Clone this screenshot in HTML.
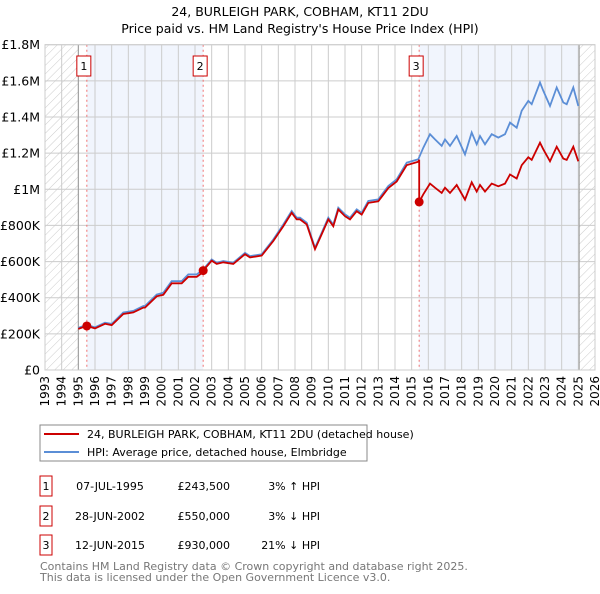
<!DOCTYPE html>
<html><head><meta charset="utf-8"><style>
body{margin:0;background:#fff;font-family:"DejaVu Sans","Liberation Sans",sans-serif;}
svg text{font-family:"DejaVu Sans","Liberation Sans",sans-serif;}
</style></head><body>
<svg id="c" width="600" height="590" viewBox="0 0 600 590" xmlns="http://www.w3.org/2000/svg">
<defs>
<pattern id="hatch" width="6" height="6" patternUnits="userSpaceOnUse" patternTransform="rotate(45)">
<line x1="0" y1="0" x2="0" y2="6" stroke="#ccc" stroke-width="1"/>
</pattern>
</defs>
<text x="300" y="16" text-anchor="middle" font-size="12.5">24, BURLEIGH PARK, COBHAM, KT11 2DU</text>
<text x="300" y="33" text-anchor="middle" font-size="12.5">Price paid vs. HM Land Registry's House Price Index (HPI)</text>
<g id="plot"></g>
<rect x="40" y="425" width="327" height="36" fill="#fff" stroke="#888"/>
<line x1="44" y1="434" x2="79" y2="434" stroke="#cc0000" stroke-width="2"/>
<text x="87" y="438" font-size="11">24, BURLEIGH PARK, COBHAM, KT11 2DU (detached house)</text>
<line x1="44" y1="452" x2="79" y2="452" stroke="#5b8ed6" stroke-width="2"/>
<text x="87" y="456" font-size="11">HPI: Average price, detached house, Elmbridge</text>
<g id="table" font-size="11"></g>
<text x="40" y="570" font-size="11" fill="#777">Contains HM Land Registry data © Crown copyright and database right 2025.</text>
<text x="40" y="581" font-size="11" fill="#777">This data is licensed under the Open Government Licence v3.0.</text>
</svg>
<script>
const hpiYears=[1995.0,1995.5,1996.0,1996.6,1997.0,1997.7,1998.3,1998.9,1999.0,1999.7,2000.1,2000.6,2001.2,2001.6,2002.1,2002.5,2003.0,2003.3,2003.7,2004.3,2005.0,2005.3,2006.0,2006.7,2007.3,2007.8,2008.1,2008.3,2008.7,2009.2,2009.6,2010.0,2010.3,2010.6,2011.0,2011.3,2011.7,2012.0,2012.4,2013.0,2013.6,2014.1,2014.7,2015.4,2015.7,2016.1,2016.4,2016.8,2017.0,2017.3,2017.7,2018.2,2018.6,2018.9,2019.1,2019.4,2019.8,2020.2,2020.6,2020.9,2021.3,2021.6,2022.0,2022.2,2022.7,2022.9,2023.3,2023.7,2024.1,2024.3,2024.7,2025.0];
const hpiValues=[233,250,236,262,255,318,327,354,354,418,427,492,492,529,529,557,612,594,603,594,648,630,640,722,805,880,843,843,815,676,760,843,805,898,861,843,889,870,935,944,1018,1055,1147,1166,1230,1305,1276,1240,1276,1240,1295,1193,1314,1249,1295,1249,1305,1286,1305,1369,1341,1434,1489,1471,1591,1545,1461,1563,1480,1471,1563,1461];
const saleYears=[1995.51,2002.49,2015.45];
const salePrices=[243.5,550,930];
const saleLabels=["1","2","3"];
const saleDates=["07-JUL-1995","28-JUN-2002","12-JUN-2015"];
const salePriceText=["£243,500","£550,000","£930,000"];
const saleHpiText=["3% ↑ HPI","3% ↓ HPI","21% ↓ HPI"];
const yTicks=[0,200,400,600,800,1000,1200,1400,1600,1800];
const yTickLabels=["£0","£200K","£400K","£600K","£800K","£1M","£1.2M","£1.4M","£1.6M","£1.8M"];

const NS="http://www.w3.org/2000/svg";
const X0=45,X1=595,Y0=370,Y1=44.7,YR0=1993,YR1=2026,VMAX=1800;
const xs=y=>X0+(y-YR0)/(YR1-YR0)*(X1-X0);
const ys=v=>Y0-v/VMAX*(Y0-Y1);
const plot=document.getElementById('plot');
function mk(tag,attrs,parent){const e=document.createElementNS(NS,tag);for(const k in attrs)e.setAttribute(k,attrs[k]);(parent||plot).appendChild(e);return e;}
function hpiAt(t){if(t<=hpiYears[0])return hpiValues[0];for(let i=1;i<hpiYears.length;i++){if(t<=hpiYears[i]){const f=(t-hpiYears[i-1])/(hpiYears[i]-hpiYears[i-1]);return hpiValues[i-1]+f*(hpiValues[i]-hpiValues[i-1]);}}return hpiValues[hpiValues.length-1];}

let e;
e=mk('rect',{x:X0,y:Y1,width:xs(1995)-X0,height:Y0-Y1,fill:'url(#hatch)'});


e=mk('rect',{x:xs(2025.05),y:Y1,width:X1-xs(2025.05),height:Y0-Y1,fill:'url(#hatch)'});


e=mk('rect',{x:xs(saleYears[0]),y:Y1,width:xs(saleYears[1])-xs(saleYears[0]),height:Y0-Y1,fill:'#eef3fc',opacity:0.8});


e=mk('rect',{x:xs(saleYears[2]),y:Y1,width:xs(2025.05)-xs(saleYears[2]),height:Y0-Y1,fill:'#eef3fc',opacity:0.8});



for(let yr=YR0;yr<=YR1;yr++){
  e=mk('line',{x1:xs(yr),x2:xs(yr),y1:Y1,y2:Y0,stroke:'#ccc','stroke-width':1});
  
  
  e=mk('text',{x:0,y:0,'font-size':12,'text-anchor':'end',transform:`translate(${xs(yr)+4},${Y0+6}) rotate(-90)`});
  e.textContent=String(yr);
  
  
}
yTicks.forEach((v,i)=>{
  e=mk('line',{x1:X0,x2:X1,y1:ys(v),y2:ys(v),stroke:'#ccc','stroke-width':1});
  
  
  e=mk('text',{x:40,y:ys(v)+4.5,'font-size':12.5,'text-anchor':'end'});
  e.textContent=yTickLabels[i];
  
  
});
e=mk('line',{x1:xs(1995),x2:xs(1995),y1:Y1,y2:Y0,stroke:'#999'});


e=mk('line',{x1:xs(2025.05),x2:xs(2025.05),y1:Y1,y2:Y0,stroke:'#999'});



saleYears.forEach((s,i)=>{
  e=mk('line',{x1:xs(s),x2:xs(s),y1:Y1,y2:Y0,stroke:'#f07070','stroke-dasharray':'2,3'});
  
  
  e=mk('rect',{x:xs(s)-10,y:56,width:14,height:20,fill:'#fff',stroke:'#cc0000'});
  
  
  e=mk('text',{x:xs(s)-3,y:70,'font-size':11,'text-anchor':'middle'});
  e.textContent=saleLabels[i];
  
  
});

let d=hpiYears.map((t,i)=>(i?'L':'M')+xs(t).toFixed(1)+','+ys(hpiValues[i]).toFixed(1)).join('');
e=mk('path',{d:d,fill:'none',stroke:'#5b8ed6','stroke-width':1.8});



const pts=[];
const times=hpiYears.slice();
saleYears.forEach(s=>times.push(s));
times.sort((a,b)=>a-b);
times.forEach(t=>{
  let k=0;for(let j=0;j<saleYears.length;j++)if(t>=saleYears[j])k=j;
  if(t===saleYears[k]&&k>0){const prev=salePrices[k-1]*hpiAt(t)/hpiAt(saleYears[k-1]);pts.push([t,prev]);}
  pts.push([t,salePrices[k]*hpiAt(t)/hpiAt(saleYears[k])]);
});
d=pts.map((p,i)=>(i?'L':'M')+xs(p[0]).toFixed(1)+','+ys(p[1]).toFixed(1)).join('');
e=mk('path',{d:d,fill:'none',stroke:'#cc0000','stroke-width':1.8});


saleYears.forEach((s,i)=>{
  e=mk('circle',{cx:xs(s),cy:ys(salePrices[i]),r:4.5,fill:'#cc0000'});
  
  
});
e=mk('rect',{x:X0,y:Y1,width:X1-X0,height:Y0-Y1,fill:'none',stroke:'#ccc'});



const tb=document.getElementById('table');
const rowY=[486,516,545];
saleLabels.forEach((l,i)=>{
  const y=rowY[i];
  e=mk('rect',{x:40,y:y-10,width:12,height:20,fill:'#fff',stroke:'#cc0000'},tb);
  
  
  e=mk('text',{x:46,y:y+4,'text-anchor':'middle'},tb);e.textContent=l;
  
  
  e=mk('text',{x:110,y:y+4,'text-anchor':'middle'},tb);e.textContent=saleDates[i];
  
  
  e=mk('text',{x:230,y:y+4,'text-anchor':'end'},tb);e.textContent=salePriceText[i];
  
  
  e=mk('text',{x:320,y:y+4,'text-anchor':'end'},tb);e.textContent=saleHpiText[i];
  
  
});
</script>
</body></html>
